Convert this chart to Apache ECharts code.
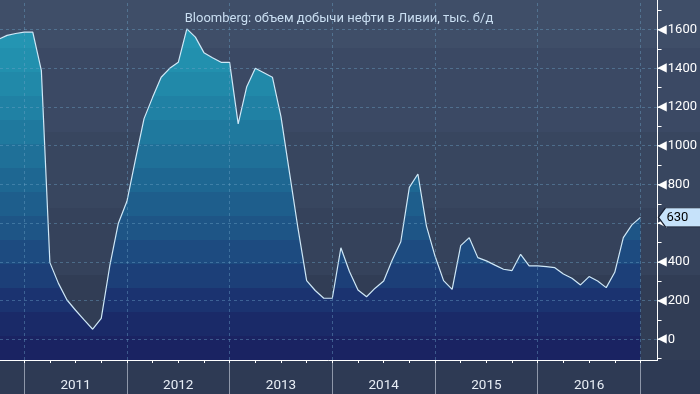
<!DOCTYPE html>
<html>
<head>
<meta charset="utf-8">
<script src="https://cdn.jsdelivr.net/npm/echarts@6/dist/echarts.min.js"></script>
<style>
html,body{margin:0;padding:0;}
body{width:700px;height:394px;overflow:hidden;
background:linear-gradient(to bottom,#3f4e68 0px,#3f4e68 48px,#3b4964 48px,#3b4964 132px,#38465f 132px,#38465f 208px,#35425b 208px,#35425b 275px,#313d55 275px,#313d55 360px,#2e3a54 360px,#2e3a54 394px);}
#c{width:700px;height:394px;}
</style>
</head>
<body>
<div id="c"></div>
<script>
// ---- data ----
const startYear = 2010, startMonth = 9; // first point: September 2010
const production = [
  1550, 1570, 1580, 1587,           // 2010 Sep-Dec
  1587, 1390, 396, 289, 203, 150, 100, 52, 108, 380, 600, 713,       // 2011
  930, 1140, 1250, 1354, 1400, 1431, 1604, 1561, 1481, 1455, 1431, 1431, // 2012
  1113, 1305, 1400, 1377, 1354, 1150, 860, 570, 303, 252, 212, 212,  // 2013
  473, 350, 255, 220, 264, 301, 410, 504, 785, 854, 585, 430,        // 2014
  303, 258, 484, 525, 422, 405, 383, 362, 355, 439, 379, 379,        // 2015
  375, 370, 337, 315, 281, 324, 301, 267, 346, 525, 591, 630         // 2016
];
const yearLabels = ['2011', '2012', '2013', '2014', '2015', '2016'];
const yTickLabels = [0, 200, 400, 600, 800, 1000, 1200, 1400, 1600];
const yMinorTicks = [-100, 0, 100, 200, 300, 400, 500, 600, 700, 800, 900, 1000, 1100, 1200, 1300, 1400, 1500, 1600, 1700];
const lastLabel = '630';

// months as 'YYYY-MM' and position = months since start of 2011 (month-end)
const months = production.map((v, k) => {
  const t = (startMonth - 1) + k;
  const y = startYear + Math.floor(t / 12);
  const m = (t % 12) + 1;
  return y + '-' + String(m).padStart(2, '0');
});
function monthPos(s) {
  const y = +s.slice(0, 4), m = +s.slice(5, 7);
  return (y - 2011) * 12 + m;
}
const seriesData = months.map((s, k) => [monthPos(s), production[k]]);
const yearBounds = [0, 1, 2, 3, 4, 5, 6].map(k => k * 12);
const quarterTicks = [];
for (let q = 0; q <= 72; q += 3) quarterTicks.push(q);
const yearCenters = yearLabels.map((y, k) => k * 12 + 6);

// stepped gradient bands for area
const bandColors = ['#2699b6', '#2495b2', '#2290ae', '#2189a9', '#2081a4', '#1f799e', '#1f7098',
  '#1e6792', '#1e5e8c', '#1e5586', '#1d4b80', '#1c3f78', '#1b3370', '#1a2a68', '#1a2362'];
const stops = [];
bandColors.forEach((c, k) => {
  stops.push({offset: k / bandColors.length, color: c});
  stops.push({offset: (k + 1) / bandColors.length - 0.0001, color: c});
});

const FONT = 'Roboto';
const gridCol = 'rgba(110,165,200,0.42)';

const chart = echarts.init(document.getElementById('c'), null, {renderer: 'canvas'});
chart.setOption({
  backgroundColor: 'transparent',
  animation: false,
  title: {
    text: 'Bloomberg: объем добычи нефти в Ливии, тыс. б/д',
    left: 334, top: 7, textAlign: 'center',
    textStyle: {color: '#cadff2', fontSize: 13, fontWeight: 'normal', fontFamily: FONT}
  },
  grid: {left: 0, right: 40.7, top: 0, height: 360, containLabel: false},
  xAxis: [{
    type: 'value', min: -2.83, max: 74, position: 'bottom', z: 6,
    axisLine: {show: true, onZero: false, lineStyle: {color: '#ffffff', width: 1}},
    axisTick: {show: true, customValues: quarterTicks, length: 3, lineStyle: {color: '#ffffff'}},
    axisLabel: {show: true, customValues: yearCenters, margin: 19,
      formatter: v => yearLabels[Math.round((v - 6) / 12)],
      color: '#e8eef6', fontSize: 13.5, fontFamily: FONT},
    splitLine: {show: false}
  }, {
    type: 'value', min: -2.83, max: 74, position: 'bottom', z: 5,
    axisLine: {show: false, onZero: false},
    axisTick: {show: true, customValues: yearBounds, length: 34, lineStyle: {color: '#8e97a9'}},
    axisLabel: {show: false},
    splitLine: {show: false}
  }],
  yAxis: {
    type: 'value', min: -107, max: 1753, position: 'right',
    axisLine: {show: true, onZero: false, lineStyle: {color: '#ffffff', width: 1}},
    axisTick: {show: true, customValues: yMinorTicks, length: 4, lineStyle: {color: '#ffffff'}},
    axisLabel: {show: true, customValues: yTickLabels, margin: 0,
      formatter: v => '{a|◀}{b|' + v + '}',
      rich: {
        a: {color: '#ffffff', fontSize: 12, fontFamily: 'DejaVu Sans', padding: [0, 1, 0, 0]},
        b: {color: '#ffffff', fontSize: 13, fontFamily: FONT}
      }},
    splitLine: {show: false}
  },
  series: [{
    type: 'line',
    data: seriesData,
    showSymbol: false,
    symbol: 'none',
    lineStyle: {color: '#cfe8f7', width: 1.2},
    areaStyle: {
      origin: 'start', opacity: 1,
      color: {type: 'linear', x: 0, y: 0, x2: 0, y2: 360, global: true, colorStops: stops}
    },
    z: 2,
    markPoint: {
      symbol: 'path://M0,10 L7,0 L44,0 L44,20 L7,20 Z',
      symbolSize: [44, 19],
      symbolOffset: [40, 0],
      itemStyle: {color: '#c6e2fa', borderColor: '#1a2030', borderWidth: 1},
      label: {show: true, formatter: lastLabel, color: '#000000', fontSize: 13, fontFamily: FONT, offset: [-3, 0]},
      data: [{coord: seriesData[seriesData.length - 1]}]
    }
  }, {
    type: 'line',
    data: [],
    z: 3,
    markLine: {
      silent: true, symbol: 'none', animation: false,
      label: {show: false},
      lineStyle: {color: gridCol, type: [3, 3], width: 1},
      emphasis: {disabled: true},
      data: yTickLabels.map(v => ({yAxis: v})).concat(yearBounds.map(v => ({xAxis: v})))
    }
  }]
});
</script>
</body>
</html>
